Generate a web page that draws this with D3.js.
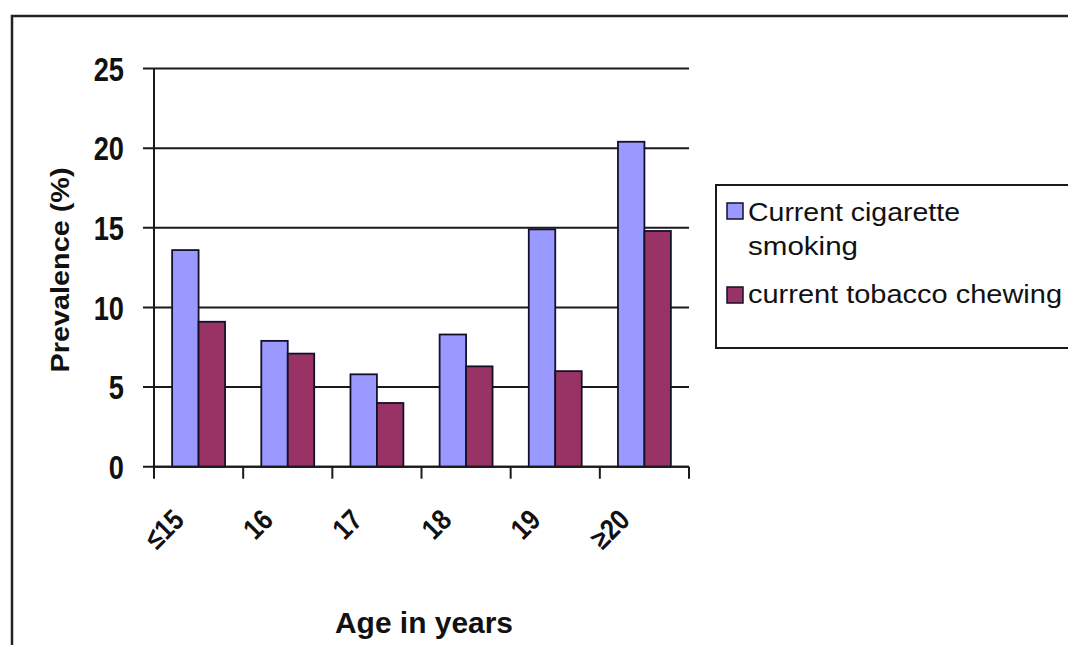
<!DOCTYPE html>
<html><head><meta charset="utf-8">
<script src="https://cdn.jsdelivr.net/npm/d3@7"></script>
<style>
html,body{margin:0;padding:0;background:#fff;}
svg{display:block;font-family:"Liberation Sans",Arial,sans-serif;}
</style></head>
<body><div id="chart"></div>
<script>
const categories = ["\u226415","16","17","18","19","\u226520"];
const seriesNames = ["Current cigarette smoking","current tobacco chewing"];
const cigarette = [13.6, 7.9, 5.8, 8.3, 14.9, 20.4];
const chewing = [9.1, 7.1, 4.0, 6.3, 6.0, 14.8];
const yTicks = [0,5,10,15,20,25];
const colors = ["#9999FF","#993366"];

const W = 1068, H = 645;
const svg = d3.select("#chart").append("svg").attr("width",W).attr("height",H);

// outer chart border
svg.append("rect").attr("x",12).attr("y",16).attr("width",W+20).attr("height",H+20)
  .attr("fill","#fff").attr("stroke","#222").attr("stroke-width",2.5);

const plot = {left:154, right:689, top:68.5, bottom:466.7};

const x0 = d3.scaleBand().domain(categories).range([plot.left, plot.right]).paddingInner(0).paddingOuter(0);
const x1 = d3.scaleBand().domain(seriesNames).range([0, x0.bandwidth()]).paddingInner(0).paddingOuter(0.685);
const y = d3.scaleLinear().domain([0,25]).range([plot.bottom, plot.top]);

// gridlines (extend left as ticks)
svg.append("g").selectAll("line").data(yTicks).join("line")
  .attr("x1",plot.left-11).attr("x2",plot.right)
  .attr("y1",d=>y(d)).attr("y2",d=>y(d))
  .attr("stroke","#1a1a1a").attr("stroke-width",2);

// y tick labels
svg.append("g").selectAll("text").data(yTicks).join("text")
  .attr("transform",d=>`translate(124,${y(d)}) scale(0.8,1)`)
  .attr("text-anchor","end").attr("dy","0.36em")
  .attr("font-size",34).attr("font-weight","bold").attr("fill","#111")
  .text(d=>d);

// bars
const data = categories.map((c,i)=>({cat:c, vals:[cigarette[i], chewing[i]]}));
const groups = svg.append("g").selectAll("g").data(data).join("g")
  .attr("transform",d=>`translate(${x0(d.cat)},0)`);
groups.selectAll("rect").data(d=>d.vals.map((v,j)=>({name:seriesNames[j], v, j}))).join("rect")
  .attr("x",d=>x1(d.name)).attr("width",x1.bandwidth())
  .attr("y",d=>y(d.v)).attr("height",d=>y(0)-y(d.v))
  .attr("fill",d=>colors[d.j]).attr("stroke","#15102a").attr("stroke-width",1.8);

// y axis line
svg.append("line").attr("x1",plot.left).attr("x2",plot.left).attr("y1",plot.top).attr("y2",plot.bottom)
  .attr("stroke","#1a1a1a").attr("stroke-width",2);
// x axis line + ticks at category boundaries
svg.append("line").attr("x1",plot.left).attr("x2",plot.right).attr("y1",plot.bottom).attr("y2",plot.bottom)
  .attr("stroke","#1a1a1a").attr("stroke-width",2);
const bounds = categories.map(c=>x0(c)).concat([x0(categories[categories.length-1])+x0.bandwidth()]);
svg.append("g").selectAll("line").data(bounds).join("line")
  .attr("x1",d=>d).attr("x2",d=>d).attr("y1",plot.bottom).attr("y2",plot.bottom+12)
  .attr("stroke","#1a1a1a").attr("stroke-width",2);

// x tick labels (rotated)
svg.append("g").selectAll("text").data(categories).join("text")
  .attr("transform",d=>`translate(${x0(d)+x0.bandwidth()/2-13},${plot.bottom+55}) rotate(-45) scale(0.85,1)`)
  .attr("text-anchor","end").attr("font-size",29).attr("font-weight","bold").attr("fill","#111")
  .text(d=>d);

// axis titles
svg.append("text").attr("x",424).attr("y",633).attr("text-anchor","middle")
  .attr("font-size",29).attr("font-weight","bold").attr("fill","#111")
  .attr("textLength",178).attr("lengthAdjust","spacingAndGlyphs")
  .text("Age in years");
svg.append("text").attr("transform","translate(69,270) rotate(-90)").attr("text-anchor","middle")
  .attr("font-size",25).attr("font-weight","bold").attr("fill","#111")
  .attr("textLength",205).attr("lengthAdjust","spacingAndGlyphs")
  .text("Prevalence (%)");

// legend
const lg = svg.append("g");
lg.append("rect").attr("x",716).attr("y",185).attr("width",400).attr("height",163)
  .attr("fill","#fff").attr("stroke","#1a1a1a").attr("stroke-width",2);
const legendRows = [
  {name:seriesNames[0], lines:["Current cigarette","smoking"], widths:[212,110], sy:203, by:221},
  {name:seriesNames[1], lines:["current tobacco chewing"], widths:[314], sy:287, by:303}
];
legendRows.forEach((r,i)=>{
  lg.append("rect").attr("x",727).attr("y",r.sy).attr("width",16).attr("height",16)
    .attr("fill",colors[i]).attr("stroke","#15102a").attr("stroke-width",1.5);
  r.lines.forEach((t,k)=>{
    lg.append("text").attr("x",748).attr("y",r.by+k*34)
      .attr("font-size",25).attr("fill","#111")
      .attr("textLength",r.widths[k]).attr("lengthAdjust","spacingAndGlyphs")
      .text(t);
  });
});
</script></body></html>
